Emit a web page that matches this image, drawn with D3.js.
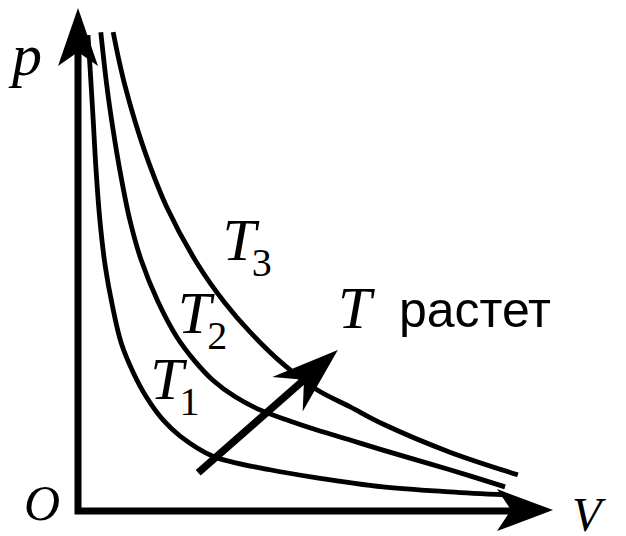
<!DOCTYPE html>
<html>
<head>
<meta charset="utf-8">
<script src="https://cdn.jsdelivr.net/npm/d3@7"></script>
<style>
  body { margin: 0; background: #fff; }
  svg { display: block; }
</style>
</head>
<body>
<svg id="chart"></svg>
<script>
// isotherm points, [V, p] in arbitrary units
var isoT1 = [[0.21,9.46],[0.25,8.87],[0.32,7.77],[0.38,6.78],[0.46,5.79],[0.57,4.89],[0.72,4.10],[0.91,3.34],
             [1.16,2.76],[1.45,2.25],[1.79,1.81],[2.15,1.49],[2.84,1.09],[4.04,0.82],[5.03,0.66],[6.42,0.48],
             [7.83,0.38],[8.99,0.32]];
var isoT2 = [[0.48,9.52],[0.61,8.43],[0.74,7.57],[0.88,6.78],[1.09,5.79],[1.33,4.99],[1.68,4.17],[2.08,3.46],
             [2.46,2.98],[2.84,2.60],[3.31,2.27],[3.83,2.01],[4.46,1.79],[5.03,1.61],[5.73,1.41],[6.42,1.21],
             [7.83,0.82],[8.99,0.48]];
var isoT3 = [[0.74,9.52],[0.86,8.97],[0.99,8.45],[1.20,7.75],[1.47,6.98],[1.87,6.04],[2.53,4.89],[3.09,4.14],
             [3.62,3.56],[4.32,2.92],[5.03,2.41],[5.73,2.07],[6.42,1.73],[7.83,1.17],[9.26,0.72]];
var curveNames = ["3", "2", "1"];
// label anchor [V, p] for each isotherm label
var labelPos = [[3.04,5.0],[2.10,3.53],[1.52,2.23]];
// direction arrow "T grows"
var growArrow = [[2.53,0.76],[5.47,3.20]];
var growText = "растет";

var width = 626, height = 536;
var svg = d3.select("#chart").attr("width", width).attr("height", height);

var x = d3.scaleLinear().domain([0, 10]).range([78, 553]);
var y = d3.scaleLinear().domain([0, 10]).range([511, 8]);

var line = d3.line()
    .x(d => x(d[0]))
    .y(d => y(d[1]))
    .curve(d3.curveCatmullRom.alpha(0.5));

svg.selectAll(".iso")
  .data([isoT1, isoT2, isoT3])
  .enter()
  .append("path")
    .attr("class", "iso")
    .attr("d", line)
    .attr("fill", "none")
    .attr("stroke", "#000")
    .attr("stroke-width", 4.8);

// barbed arrowhead at (tx,ty) pointing along (ux,uy)
function head(tx, ty, ux, uy, len, half, notch) {
  var nx = -uy, ny = ux;
  var p = [
    [tx, ty],
    [tx - ux*len + nx*half, ty - uy*len + ny*half],
    [tx - ux*notch, ty - uy*notch],
    [tx - ux*len - nx*half, ty - uy*len - ny*half]
  ];
  return "M" + p.map(d => d.join(",")).join("L") + "Z";
}

// axes
var ax = svg.append("g");
ax.append("path")
  .attr("d", "M" + x(0) + "," + y(9.2) + "V" + y(0) + "H" + x(9.2))
  .attr("fill", "none")
  .attr("stroke", "#000")
  .attr("stroke-width", 7);
ax.append("path")
  .attr("d", head(x(0), y(10), 0, -1, 58, 20, 44))
  .attr("fill", "#000");
ax.append("path")
  .attr("d", head(x(10), y(0) - 1, 1, 0, 56, 21, 42))
  .attr("fill", "#000");

// growth arrow
var a0 = [x(growArrow[0][0]), y(growArrow[0][1])],
    a1 = [x(growArrow[1][0]), y(growArrow[1][1])];
var dx = a1[0] - a0[0], dy = a1[1] - a0[1], L = Math.sqrt(dx*dx + dy*dy);
var ux = dx / L, uy = dy / L;
svg.append("line")
  .attr("x1", a0[0]).attr("y1", a0[1])
  .attr("x2", a1[0] - ux*40).attr("y2", a1[1] - uy*40)
  .attr("stroke", "#000")
  .attr("stroke-width", 7.5);
svg.append("path")
  .attr("d", head(a1[0], a1[1], ux, uy, 67, 23, 45))
  .attr("fill", "#000");

// labels
var serif = "'Liberation Serif', 'Times New Roman', serif";

svg.append("text").attr("x", 12).attr("y", 75)
  .style("font-family", serif).style("font-style", "italic").style("font-size", "60px")
  .text("p");
svg.append("text").attr("x", 24).attr("y", 520)
  .style("font-family", serif).style("font-style", "italic").style("font-size", "50px")
  .text("O");
svg.append("text").attr("x", 572).attr("y", 531)
  .style("font-family", serif).style("font-style", "italic").style("font-size", "48px")
  .text("V");

var lab = svg.selectAll(".tlab")
  .data(curveNames)
  .enter()
  .append("text")
    .attr("class", "tlab")
    .attr("x", (d, i) => x(labelPos[i][0]))
    .attr("y", (d, i) => y(labelPos[i][1]))
    .style("font-family", serif)
    .style("font-size", "60px");
lab.append("tspan").style("font-style", "italic").text("T");
lab.append("tspan").attr("dy", 16).attr("dx", -4).style("font-size", "40px").text(d => d);

svg.append("text").attr("x", 338).attr("y", 328)
  .style("font-family", serif).style("font-style", "italic").style("font-size", "60px")
  .text("T");
svg.append("text").attr("x", 399).attr("y", 327)
  .style("font-family", "'Liberation Sans', Arial, sans-serif").style("font-size", "50px")
  .text(growText);
</script>
</body>
</html>
